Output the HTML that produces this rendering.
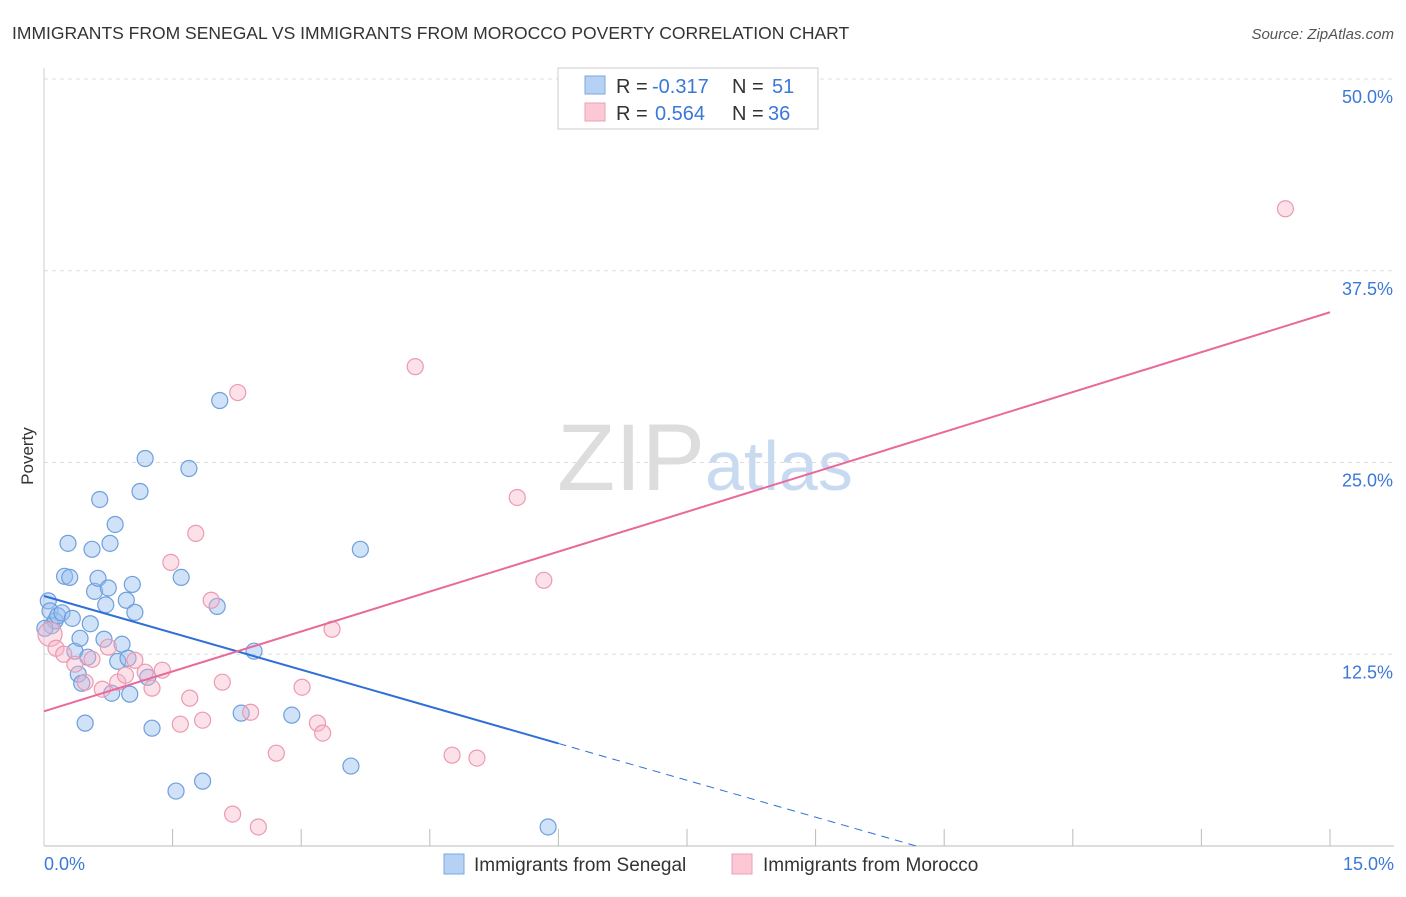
<!DOCTYPE html>
<html><head><meta charset="utf-8"><style>
body{margin:0;background:#fff;font-family:"Liberation Sans",sans-serif;}
svg text{font-family:"Liberation Sans",sans-serif;}
</style></head><body>
<svg id="c" width="1406" height="892">
<text x="12" y="39" font-size="17.5" fill="#333">IMMIGRANTS FROM SENEGAL VS IMMIGRANTS FROM MOROCCO POVERTY CORRELATION CHART</text>
<text x="1394" y="39" font-size="15" fill="#555" font-style="italic" text-anchor="end">Source: ZipAtlas.com</text>
<text x="33" y="456" font-size="17" fill="#333" transform="rotate(-90 33 456)" text-anchor="middle">Poverty</text>
<text x="705" y="490" font-size="95" fill="#ddd" text-anchor="middle" font-family="Liberation Serif">ZIP<tspan fill="#c8daf0" font-family="Liberation Sans" font-size="70">atlas</tspan></text>
<g id="grid"></g><g id="marks"></g>
<g>
<rect x="558" y="68" width="260" height="61" fill="#fff" stroke="#ccc"/>
<rect x="585" y="76" width="20" height="18" fill="#b5d2f5" stroke="#7aa8e0"/>
<rect x="585" y="103" width="20" height="18" fill="#fcc8d6" stroke="#eba0b6"/>
<text x="616" y="93" font-size="20" fill="#333">R =</text><text x="652" y="93" font-size="20" fill="#3b78d8">-0.317</text>
<text x="732" y="93" font-size="20" fill="#333">N =</text><text x="772" y="93" font-size="20" fill="#3b78d8">51</text>
<text x="616" y="120" font-size="20" fill="#333">R =</text><text x="655" y="120" font-size="20" fill="#3b78d8">0.564</text>
<text x="732" y="120" font-size="20" fill="#333">N =</text><text x="768" y="120" font-size="20" fill="#3b78d8">36</text>
</g>
<g>
<rect x="444" y="854" width="20" height="20" fill="#b5d2f5" stroke="#7aa8e0"/>
<text x="474" y="871" font-size="19" fill="#333">Immigrants from Senegal</text>
<rect x="732" y="854" width="20" height="20" fill="#fcc8d6" stroke="#eba0b6"/>
<text x="763" y="871" font-size="19" fill="#333">Immigrants from Morocco</text>
</g>
</svg>
<script>
const yTicks=[12.5,25,37.5,50];
const yTickLabels=["12.5%","25.0%","37.5%","50.0%"];
const xTickCount=10;
const senegalX=[0.05,0.07,0.09,0.13,0.16,0.21,0.24,0.28,0.30,0.33,0.36,0.40,0.42,0.44,0.48,0.51,0.54,0.56,0.59,0.63,0.65,0.70,0.72,0.75,0.77,0.79,0.83,0.86,0.91,0.96,0.98,1.00,1.03,1.06,1.12,1.18,1.21,1.26,1.54,1.60,1.69,1.85,2.02,2.05,2.30,2.45,2.89,3.58,3.69,5.88,0.01];
const senegalY=[15.98,15.33,14.36,14.68,15.01,15.2,17.58,19.73,17.51,14.84,12.7,11.2,13.54,10.61,8.01,12.31,14.49,19.34,16.6,17.45,22.59,13.48,15.72,16.82,19.73,9.96,20.96,12.04,13.15,16.02,12.24,9.9,17.05,15.23,23.11,25.26,11.0,7.68,3.58,17.51,24.61,4.23,15.62,29.04,8.66,12.7,8.53,5.21,19.34,1.24,14.19];
const moroccoX=[0.07,0.14,0.23,0.36,0.48,0.56,0.68,0.75,0.86,0.95,1.06,1.18,1.26,1.38,1.48,1.59,1.70,1.77,1.85,1.95,2.08,2.20,2.26,2.41,2.50,2.71,3.01,3.19,3.25,3.36,4.33,4.76,5.05,5.52,5.83,14.48];
const moroccoY=[13.80,12.89,12.5,11.85,10.68,12.17,10.22,12.96,10.68,11.13,12.11,11.33,10.29,11.46,18.49,7.94,9.64,20.38,8.2,16.02,10.68,2.08,29.56,8.72,1.24,6.05,10.35,8.01,7.36,14.13,31.25,5.92,5.73,22.72,17.32,41.54];
const X=v=>44+v*(1286/15), Y=v=>846-v*(767/50);
const NS="http://www.w3.org/2000/svg";
function mk(t,a,p){const e=document.createElementNS(NS,t);for(const k in a)e.setAttribute(k,a[k]);p.appendChild(e);return e;}
const g=document.getElementById('grid'),m=document.getElementById('marks');
yTicks.forEach((t,i)=>{const l=mk('line',{x1:44,x2:1394,y1:Y(t),y2:Y(t),stroke:'#ddd','stroke-dasharray':'4,4'},g);

const tx=mk('text',{x:1393,y:Y(t)+24,'font-size':18,fill:'#3b78d8','text-anchor':'end'},g);tx.textContent=yTickLabels[i];
});
const ax=mk('line',{x1:44,x2:1394,y1:846,y2:846,stroke:'#bbb'},g);
const ay=mk('line',{x1:44,x2:44,y1:68,y2:846,stroke:'#ccc'},g);
for(let i=1;i<=xTickCount;i++){const t=mk('line',{x1:X(i*1.5),x2:X(i*1.5),y1:829,y2:846,stroke:'#bbb'},g);}
const x0=mk('text',{x:44,y:870,'font-size':18,fill:'#3b78d8'},g);x0.textContent='0.0%';
const x1=mk('text',{x:1394,y:870,'font-size':18,fill:'#3b78d8','text-anchor':'end'},g);x1.textContent='15.0%';
function fit(xs,ys){const n=xs.length,mx=xs.reduce((a,b)=>a+b)/n,my=ys.reduce((a,b)=>a+b)/n;let sxy=0,sxx=0;xs.forEach((x,i)=>{sxy+=(x-mx)*(ys[i]-my);sxx+=(x-mx)**2});const b=sxy/sxx;return [my-b*mx,b];}
senegalX.forEach((x,i)=>{const c=mk('circle',{cx:X(x),cy:Y(senegalY[i]),r:8,fill:'rgba(150,190,240,0.45)',stroke:'#6f9fdc','stroke-width':1.2},m);});
moroccoX.forEach((x,i)=>{const c=mk('circle',{cx:X(x),cy:Y(moroccoY[i]),r:i==0?12:8,fill:'rgba(248,180,200,0.4)',stroke:'#eb9ab3','stroke-width':1.2},m);});
let [a,b]=fit(senegalX,senegalY);
const sl=mk('line',{x1:X(0),y1:Y(a),x2:X(6),y2:Y(a+b*6),stroke:'#2f6fd6','stroke-width':2},m);
const xe=Math.min(15,-a/b);const sd=mk('line',{x1:X(6),y1:Y(a+b*6),x2:X(xe),y2:Y(a+b*xe),stroke:'#2f6fd6','stroke-width':1,'stroke-dasharray':'8,6'},m);
[a,b]=fit(moroccoX,moroccoY);
const ml=mk('line',{x1:X(0),y1:Y(a),x2:X(15),y2:Y(a+b*15),stroke:'#e8699a','stroke-width':2},m);
</script>
</body></html>
